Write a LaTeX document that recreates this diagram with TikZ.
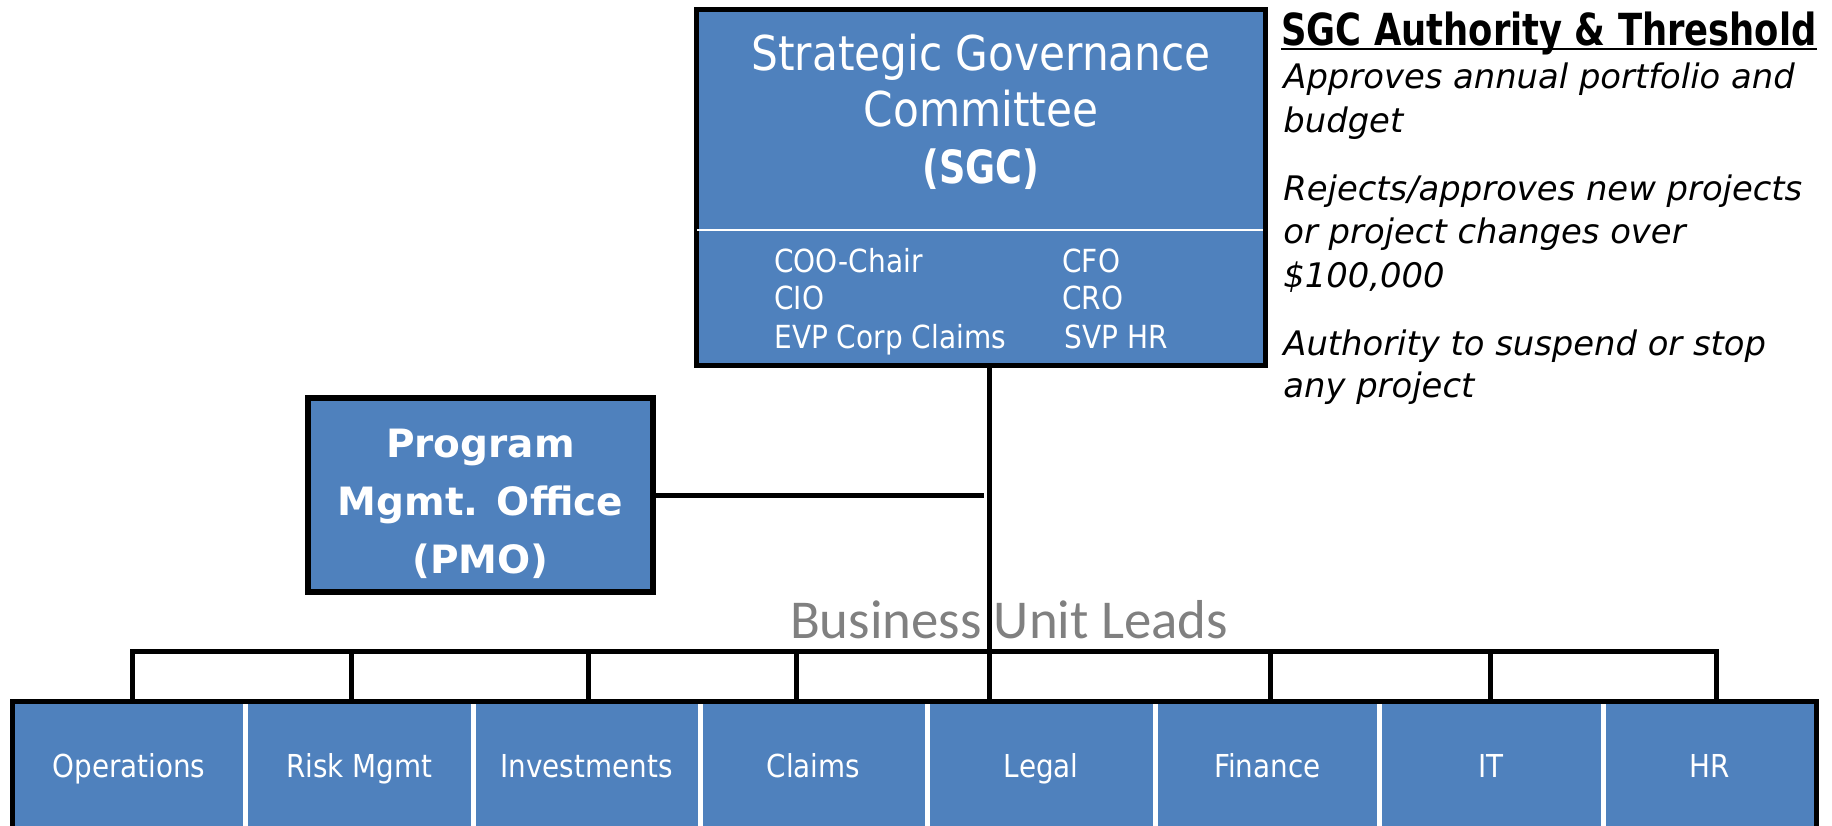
\documentclass[tikz,border=0pt]{standalone}
\usepackage{fontspec}
\setmainfont{DejaVu Sans}
\newfontfamily\tah{DejaVu Sans}[FakeStretch=0.88]
\newfontfamily\tahc{DejaVu Sans}[FakeStretch=0.8]
\newfontfamily\tahn{DejaVu Sans}
\newfontfamily\calib{Carlito}
\definecolor{ppblue}{HTML}{4F81BD}
\definecolor{bulgray}{HTML}{808080}
\begin{document}
\begin{tikzpicture}[x=0.5pt,y=-0.5pt,
  box/.style={draw=black, line width=2.75pt, fill=ppblue, inner sep=0pt, rectangle},
  conn/.style={draw=black, line width=2.5pt},
  cell/.style={rectangle, draw=white, line width=2.5pt, fill=ppblue, inner sep=0pt,
    minimum height=64.5pt, text=white, font=\tah\fontsize{15.8pt}{19pt}\selectfont,
    text height=11.5pt, text depth=0pt},
  sgctitle/.style={text=white, inner sep=0pt, anchor=base, font=\tah\fontsize{24pt}{28pt}\selectfont},
  member/.style={text=white, inner sep=0pt, anchor=base west, font=\tah\fontsize{15.9pt}{19pt}\selectfont},
  pmotext/.style={text=white, inner sep=0pt, anchor=base, font=\tahn\bfseries\fontsize{19.5pt}{23pt}\selectfont},
  note/.style={text=black, inner sep=0pt, anchor=base west, font=\tahn\itshape\fontsize{16.9pt}{20pt}\selectfont}
]
\useasboundingbox (0,0) rectangle (1832,825);
\fill[white] (0,0) rectangle (1832,825);

% SGC box
\node[box, minimum width=284.5pt, minimum height=178pt] (sgc) at (981,187.5) {};
\draw[white, line width=1pt] (697,230) -- (1263,230);
\node[sgctitle] (sgc1) at (981,70) {Strategic Governance};
\node[sgctitle] (sgc2) at (981,126) {Committee};
\node[sgctitle, font=\tahc\bfseries\fontsize{22.9pt}{27pt}\selectfont] (sgc3) at (981,183) {(SGC)};
\node[member] (m1) at (774,272) {COO-Chair};
\node[member] (m2) at (774,309) {CIO};
\node[member] (m3) at (774,348) {EVP Corp Claims};
\node[member] (m4) at (1062,272) {CFO};
\node[member] (m5) at (1062,309) {CRO};
\node[member] (m6) at (1064,348) {SVP HR};

% PMO box
\node[box, minimum width=172.5pt, minimum height=97pt] (pmo) at (480.5,495) {};
\node[pmotext] (p1) at (480.5,457) {Program};
\node[pmotext] (p2) at (480.5,515) {Mgmt. Office};
\node[pmotext] (p3) at (480.5,573) {(PMO)};

% right-hand notes
\node[text=black, inner sep=0pt, anchor=base west, font=\tahc\bfseries\fontsize{22.1pt}{26pt}\selectfont] (ttl) at (1281,45) {SGC Authority \& Threshold};
\draw[line width=1pt] ([yshift=-2.2pt]ttl.base west) -- ([yshift=-2.2pt]ttl.base east);
\node[note] (n1) at (1283,88) {Approves annual portfolio and};
\node[note] (n2) at (1283,132) {budget};
\node[note] (n3) at (1283,200) {Rejects/approves new projects};
\node[note] (n4) at (1283,243) {or project changes over};
\node[note] (n5) at (1283,287) {\$100,000};
\node[note] (n6) at (1283,355) {Authority to suspend or stop};
\node[note] (n7) at (1283,397) {any project};

% Business unit label
\node[text=bulgray, inner sep=0pt, anchor=base, font=\calib\fontsize{27.4pt}{32pt}\selectfont] (bul) at (1009,638) {Business Unit Leads};

% cells
\node[cell, minimum width=116.5pt] (c1) at (129,766) {Operations};
\node[cell, minimum width=113.75pt] (c2) at (359.25,766) {Risk Mgmt};
\node[cell, minimum width=113.5pt] (c3) at (586.5,766) {Investments};
\node[cell, minimum width=113.5pt] (c4) at (813.5,766) {Claims};
\node[cell, minimum width=114.25pt] (c5) at (1041.25,766) {Legal};
\node[cell, minimum width=111.75pt] (c6) at (1267.25,766) {Finance};
\node[cell, minimum width=112pt] (c7) at (1491,766) {IT};
\node[cell, minimum width=106.75pt] (c8) at (1709.75,766) {HR};
\draw[line width=2.75pt, line join=miter] ([xshift=1.25pt,yshift=1.25pt]c1.south west) -- ([xshift=1.25pt,yshift=-1.25pt]c1.north west) -- ([xshift=-1.25pt,yshift=-1.25pt]c8.north east) -- ([xshift=-1.25pt,yshift=1.25pt]c8.south east);

% connectors
\coordinate (d1) at (132.5,651);
\coordinate (d2) at (351.5,651);
\coordinate (d3) at (588,651);
\coordinate (d4) at (796.5,651);
\coordinate (d5) at (989.5,651);
\coordinate (d6) at (1270,651);
\coordinate (d7) at (1490,651);
\coordinate (d8) at (1716.5,651);
\coordinate (pmoend) at (984,495);

\draw[conn] (sgc.south -| d5) -- (d5 |- c5.north);
\draw[conn] (pmo.east) -- (pmoend);
\draw[conn, line join=miter] (d1 |- c1.north) -- (d1) -- (d8) -- (d8 |- c8.north);
\draw[conn] (d2) -- (d2 |- c2.north);
\draw[conn] (d3) -- (d3 |- c3.north);
\draw[conn] (d4) -- (d4 |- c4.north);
\draw[conn] (d6) -- (d6 |- c6.north);
\draw[conn] (d7) -- (d7 |- c7.north);
\end{tikzpicture}
\end{document}
